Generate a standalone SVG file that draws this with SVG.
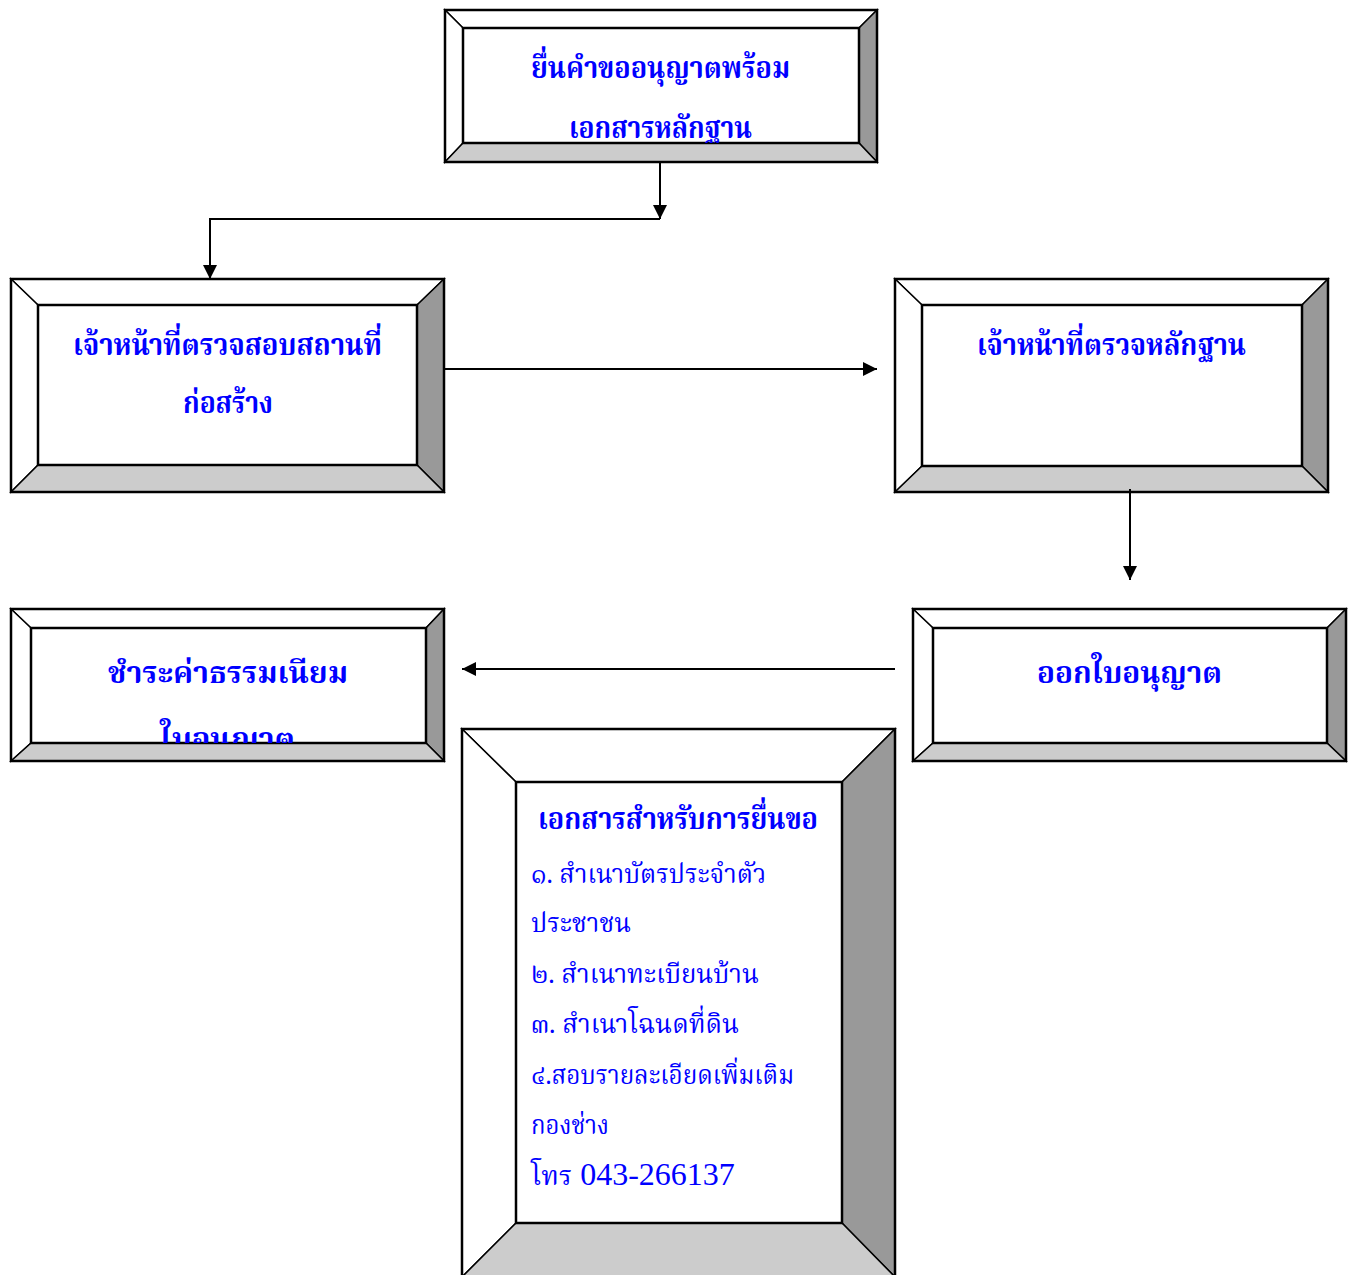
<svg xmlns="http://www.w3.org/2000/svg" width="1359" height="1275" viewBox="0 0 1359 1275">
<style>
.lt{fill:#ffffff;stroke:#000;stroke-width:1.5}
.rt{fill:#999999;stroke:#000;stroke-width:1.5}
.bt{fill:#cccccc;stroke:#000;stroke-width:1.5}
.in{fill:#ffffff;stroke:#000;stroke-width:2.5}
.out{fill:none;stroke:#000;stroke-width:2.5}
.h{font-family:"Noto Serif Thai","Noto Sans Thai","Liberation Serif",serif;font-weight:bold;font-size:30px;fill:#0000ff}
.b{font-family:"Noto Serif Thai","Noto Sans Thai","Liberation Serif",serif;font-size:26px;fill:#0000ff}
.n{font-family:"Liberation Serif","Noto Serif Thai",serif;font-size:32px;fill:#0000ff}
.c{fill:none;stroke:#000;stroke-width:2}
</style>
<defs>
<marker id="ar" viewBox="0 0 10 10" refX="10" refY="5" markerWidth="15" markerHeight="14" markerUnits="userSpaceOnUse" orient="auto">
<path d="M0,0 L10,5 L0,10 Z" fill="#000"/>
</marker>
<clipPath id="c1"><rect x="463" y="28" width="396" height="115"/></clipPath>
<clipPath id="c4"><rect x="31" y="628" width="395" height="115"/></clipPath>
</defs>

<g id="node1">
<polygon class="lt" points="445,10 877,10 859,28 463,28"/>
<polygon class="lt" points="445,10 463,28 463,143 445,162"/>
<polygon class="rt" points="877,10 877,162 859,143 859,28"/>
<polygon class="bt" points="445,162 463,143 859,143 877,162"/>
<rect class="in" x="463" y="28" width="396" height="115"/>
<rect class="out" x="445" y="10" width="432" height="152"/>
<g clip-path="url(#c1)">
<text class="h" x="531" y="78" textLength="259" lengthAdjust="spacingAndGlyphs">ยื่นคำขออนุญาตพร้อม</text>
<text class="h" x="569" y="138" textLength="183" lengthAdjust="spacingAndGlyphs">เอกสารหลักฐาน</text>
</g>
</g>

<g id="node2">
<polygon class="lt" points="11,279 444,279 417,305 38,305"/>
<polygon class="lt" points="11,279 38,305 38,465 11,492"/>
<polygon class="rt" points="444,279 444,492 417,465 417,305"/>
<polygon class="bt" points="11,492 38,465 417,465 444,492"/>
<rect class="in" x="38" y="305" width="379" height="160"/>
<rect class="out" x="11" y="279" width="433" height="213"/>
<text class="h" x="73" y="355" textLength="309" lengthAdjust="spacingAndGlyphs">เจ้าหน้าที่ตรวจสอบสถานที่</text>
<text class="h" x="183" y="413" textLength="90" lengthAdjust="spacingAndGlyphs">ก่อสร้าง</text>
</g>

<g id="node3">
<polygon class="lt" points="895,279 1328,279 1302,305 922,305"/>
<polygon class="lt" points="895,279 922,305 922,466 895,492"/>
<polygon class="rt" points="1328,279 1328,492 1302,466 1302,305"/>
<polygon class="bt" points="895,492 922,466 1302,466 1328,492"/>
<rect class="in" x="922" y="305" width="380" height="161"/>
<rect class="out" x="895" y="279" width="433" height="213"/>
<text class="h" x="977" y="355" textLength="269" lengthAdjust="spacingAndGlyphs">เจ้าหน้าที่ตรวจหลักฐาน</text>
</g>

<g id="node4">
<polygon class="lt" points="11,609 444,609 426,628 31,628"/>
<polygon class="lt" points="11,609 31,628 31,743 11,761"/>
<polygon class="rt" points="444,609 444,761 426,743 426,628"/>
<polygon class="bt" points="11,761 31,743 426,743 444,761"/>
<rect class="in" x="31" y="628" width="395" height="115"/>
<rect class="out" x="11" y="609" width="433" height="152"/>
<g clip-path="url(#c4)">
<text class="h" x="108" y="683" textLength="240" lengthAdjust="spacingAndGlyphs">ชำระค่าธรรมเนียม</text>
<text class="h" x="160" y="749" textLength="135" lengthAdjust="spacingAndGlyphs">ใบอนุญาต</text>
</g>
</g>

<g id="node5">
<polygon class="lt" points="913,609 1346,609 1327,628 933,628"/>
<polygon class="lt" points="913,609 933,628 933,743 913,761"/>
<polygon class="rt" points="1346,609 1346,761 1327,743 1327,628"/>
<polygon class="bt" points="913,761 933,743 1327,743 1346,761"/>
<rect class="in" x="933" y="628" width="394" height="115"/>
<rect class="out" x="913" y="609" width="433" height="152"/>
<text class="h" x="1037" y="683" textLength="185" lengthAdjust="spacingAndGlyphs">ออกใบอนุญาต</text>
</g>

<g id="node6">
<polygon class="lt" points="462,729 895,729 842,782 516,782"/>
<polygon class="lt" points="462,729 516,782 516,1223 462,1277"/>
<polygon class="rt" points="895,729 895,1277 842,1223 842,782"/>
<polygon class="bt" points="462,1277 516,1223 842,1223 895,1277"/>
<rect class="in" x="516" y="782" width="326" height="441"/>
<rect class="out" x="462" y="729" width="433" height="548"/>
<text class="h" x="538" y="829" textLength="280" lengthAdjust="spacingAndGlyphs">เอกสารสำหรับการยื่นขอ</text>
<text class="b" x="531" y="883" textLength="235" lengthAdjust="spacingAndGlyphs">๑.  สำเนาบัตรประจำตัว</text>
<text class="b" x="531" y="932" textLength="100" lengthAdjust="spacingAndGlyphs">ประชาชน</text>
<text class="b" x="531" y="983" textLength="228" lengthAdjust="spacingAndGlyphs">๒.  สำเนาทะเบียนบ้าน</text>
<text class="b" x="531" y="1033" textLength="208" lengthAdjust="spacingAndGlyphs">๓.  สำเนาโฉนดที่ดิน</text>
<text class="b" x="531" y="1084" textLength="263" lengthAdjust="spacingAndGlyphs">๔.สอบรายละเอียดเพิ่มเติม</text>
<text class="b" x="531" y="1134" textLength="78" lengthAdjust="spacingAndGlyphs">กองช่าง</text>
<text class="n" x="531" y="1185"><tspan class="b" style="font-size:27px">โทร</tspan> 043-266137</text>
</g>

<g id="connectors">
<line class="c" x1="660" y1="162" x2="660" y2="219" marker-end="url(#ar)"/>
<polyline class="c" points="660,219 210,219 210,279" marker-end="url(#ar)"/>
<line class="c" x1="444" y1="369" x2="877" y2="369" marker-end="url(#ar)"/>
<line class="c" x1="1130" y1="489" x2="1130" y2="580" marker-end="url(#ar)"/>
<line class="c" x1="895" y1="669" x2="462" y2="669" marker-end="url(#ar)"/>
</g>
</svg>
